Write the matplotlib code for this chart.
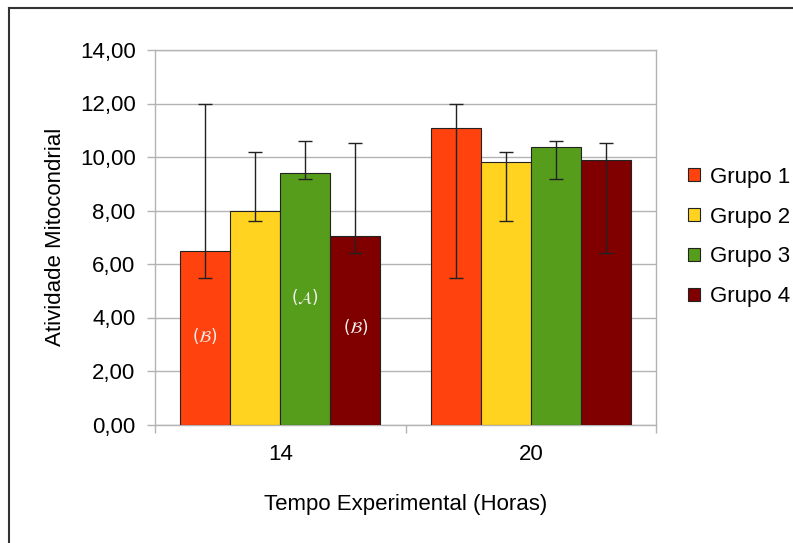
import matplotlib.pyplot as plt
import numpy as np
from matplotlib.lines import Line2D
from matplotlib.ticker import FuncFormatter

plt.rcParams['font.family'] = ['Liberation Sans', 'DejaVu Sans']

# data
tempos = ['14', '20']
grupos = ['Grupo 1', 'Grupo 2', 'Grupo 3', 'Grupo 4']
cores = ['#FF420E', '#FFD320', '#579D1C', '#800000']

media = {
    'Grupo 1': [6.49, 11.07],
    'Grupo 2': [8.00, 9.81],
    'Grupo 3': [9.41, 10.36],
    'Grupo 4': [7.05, 9.89],
}
erro_sup = {
    'Grupo 1': [12.00, 12.00],
    'Grupo 2': [10.20, 10.20],
    'Grupo 3': [10.60, 10.60],
    'Grupo 4': [10.51, 10.51],
}
erro_inf = {
    'Grupo 1': [5.47, 5.47],
    'Grupo 2': [7.60, 7.60],
    'Grupo 3': [9.18, 9.18],
    'Grupo 4': [6.42, 6.42],
}
letras = ['$(\\mathcal{B})$', '', '$(\\mathcal{A})$', '$(\\mathcal{B})$']
letras_y = [3.3, 0, 4.78, 3.66]

fs = 16

fig = plt.figure(figsize=(7.93, 5.43), dpi=100)
ax = fig.add_axes([155 / 793, 118.5 / 543, 501 / 793, 374.5 / 543])

x = np.arange(len(tempos))
w = 0.2
for i, g in enumerate(grupos):
    pos = x + (i - 1.5) * w
    m = np.array(media[g])
    yerr = [m - np.array(erro_inf[g]), np.array(erro_sup[g]) - m]
    ax.bar(pos, m, width=w, color=cores[i], edgecolor='#222222', linewidth=0.8,
           label=g, zorder=3)
    ax.errorbar(pos, m, yerr=yerr, fmt='none', ecolor='#222222', elinewidth=1,
                capsize=5, capthick=1, zorder=4)
    if letras[i]:
        ax.text(pos[0], letras_y[i], letras[i], color='#f0f0f0', fontsize=12,
                ha='center', va='center', zorder=5)

ax.set_ylim(0, 14)
ax.set_xlim(-0.5, 1.5)
ax.set_yticks(np.arange(0, 15, 2))
ax.yaxis.set_major_formatter(FuncFormatter(lambda v, p: f'{v:.2f}'.replace('.', ',')))
ax.set_xticks(x)
ax.set_xticklabels(tempos)
ax.set_xticks([-0.5, 0.5, 1.5], minor=True)
ax.tick_params(axis='x', which='major', length=0, pad=14, labelsize=fs)
ax.tick_params(axis='x', which='minor', length=6, color='#b3b3b3', width=1)
ax.tick_params(axis='y', length=6, color='#b3b3b3', width=1, pad=8, labelsize=fs)

ax.grid(axis='y', color='#b3b3b3', linewidth=1, zorder=0)
for s in ax.spines.values():
    s.set_color('#b3b3b3')
    s.set_linewidth(1)

ax.set_xlabel('Tempo Experimental (Horas)', fontsize=fs, labelpad=21)
ax.set_ylabel('Atividade Mitocondrial', fontsize=fs, labelpad=10)

fig.legend(loc='center left', bbox_to_anchor=(688 / 793, 1 - 237 / 543),
           frameon=False, fontsize=fs, handlelength=0.55, handleheight=0.55,
           handletextpad=0.45, labelspacing=0.85, borderpad=0, borderaxespad=0)

# moldura da figura
fig.add_artist(Line2D([8.5 / 793, 8.5 / 793], [0, 1 - 7.5 / 543],
                      transform=fig.transFigure, color='#333333', linewidth=1.5))
fig.add_artist(Line2D([8.5 / 793, 1], [1 - 7.5 / 543, 1 - 7.5 / 543],
                      transform=fig.transFigure, color='#333333', linewidth=1.5))

fig.savefig('out.png', dpi=100)
